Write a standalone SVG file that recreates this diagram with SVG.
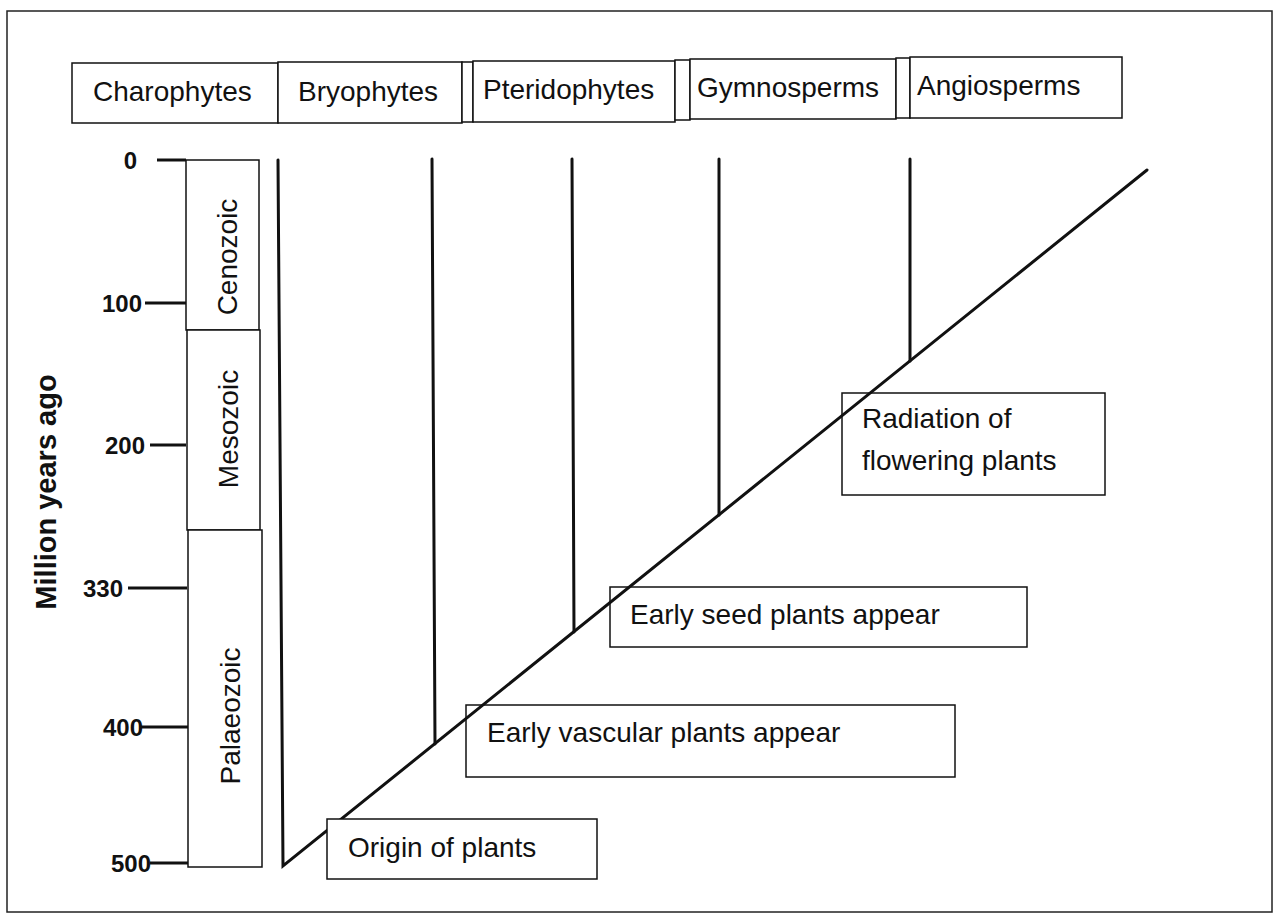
<svg xmlns="http://www.w3.org/2000/svg" width="1279" height="914" viewBox="0 0 1279 914">
<style>
.box{fill:#fff;stroke:#111;stroke-width:1.5}
.boxn{fill:none;stroke:#111;stroke-width:1.5}
.t{font-family:"Liberation Sans",Arial,sans-serif;font-size:28px;fill:#111}
.n{font-family:"Liberation Sans",Arial,sans-serif;font-size:24px;font-weight:bold;fill:#111}
.ln{stroke:#111;stroke-width:3;fill:none;stroke-linecap:round}
.tick{stroke:#111;stroke-width:3}
</style>
<rect x="0" y="0" width="1279" height="914" fill="#fff"/>
<rect x="7" y="11" width="1265" height="901" fill="none" stroke="#222" stroke-width="1.5"/>

<g id="header">
  <g id="charophytes"><rect class="box" x="72" y="63" width="206" height="60"/><text class="t" x="93" y="101">Charophytes</text></g>
  <g id="bryophytes"><rect class="box" x="278" y="62" width="184" height="61"/><text class="t" x="298" y="101">Bryophytes</text></g>
  <rect class="box" x="462" y="62" width="11" height="60"/>
  <g id="pteridophytes"><rect class="box" x="473" y="61" width="202" height="61"/><text class="t" x="483" y="99">Pteridophytes</text></g>
  <rect class="box" x="675" y="60" width="15" height="60"/>
  <g id="gymnosperms"><rect class="box" x="690" y="59" width="206" height="60"/><text class="t" x="697" y="97">Gymnosperms</text></g>
  <rect class="box" x="896" y="58" width="14" height="60"/>
  <g id="angiosperms"><rect class="box" x="910" y="57" width="212" height="61"/><text class="t" x="917" y="95">Angiosperms</text></g>
</g>

<g id="axis">
  <text class="n" x="0" y="0" text-anchor="middle" transform="translate(56,492) rotate(-90)" style="font-size:29px">Million years ago</text>
  <line class="tick" x1="157" y1="160" x2="186" y2="160"/>
  <line class="tick" x1="145" y1="303" x2="186" y2="303"/>
  <line class="tick" x1="150" y1="445" x2="186" y2="445"/>
  <line class="tick" x1="128" y1="588" x2="187" y2="588"/>
  <line class="tick" x1="140" y1="727" x2="188" y2="727"/>
  <line class="tick" x1="150" y1="863" x2="189" y2="863"/>
  <text class="n" x="137" y="169" text-anchor="end">0</text>
  <text class="n" x="142" y="312" text-anchor="end">100</text>
  <text class="n" x="145" y="454" text-anchor="end">200</text>
  <text class="n" x="123" y="597" text-anchor="end">330</text>
  <text class="n" x="143" y="736" text-anchor="end">400</text>
  <text class="n" x="151" y="872" text-anchor="end">500</text>
</g>

<g id="cenozoic"><rect class="box" x="186" y="160" width="73" height="170"/><text class="t" transform="translate(237,257) rotate(-90)" text-anchor="middle">Cenozoic</text></g>
<g id="mesozoic"><rect class="box" x="187" y="330" width="73" height="200"/><text class="t" transform="translate(238,429) rotate(-90)" text-anchor="middle">Mesozoic</text></g>
<g id="palaeozoic"><rect class="box" x="188" y="530" width="74" height="337"/><text class="t" transform="translate(240,716) rotate(-90)" text-anchor="middle">Palaeozoic</text></g>

<g id="connectors">
  <polyline class="ln" points="278,160 283,866 1147,170" stroke-linejoin="miter"/>
  <line class="ln" x1="432" y1="159" x2="435" y2="744"/>
  <line class="ln" x1="572" y1="159" x2="574" y2="632"/>
  <line class="ln" x1="719" y1="159" x2="719" y2="515"/>
  <line class="ln" x1="910" y1="159" x2="910" y2="361"/>
</g>

<g id="origin"><rect class="box" x="327" y="819" width="270" height="60"/><text class="t" x="348" y="857">Origin of plants</text></g>
<g id="vascular"><rect class="boxn" x="466" y="705" width="489" height="72"/><text class="t" x="487" y="742">Early vascular plants appear</text></g>
<g id="seed"><rect class="boxn" x="610" y="587" width="417" height="60"/><text class="t" x="630" y="624">Early seed plants appear</text></g>
<g id="radiation"><rect class="boxn" x="842" y="393" width="263" height="102"/><text class="t" x="862" y="428">Radiation of</text><text class="t" x="862" y="470">flowering plants</text></g>
</svg>
